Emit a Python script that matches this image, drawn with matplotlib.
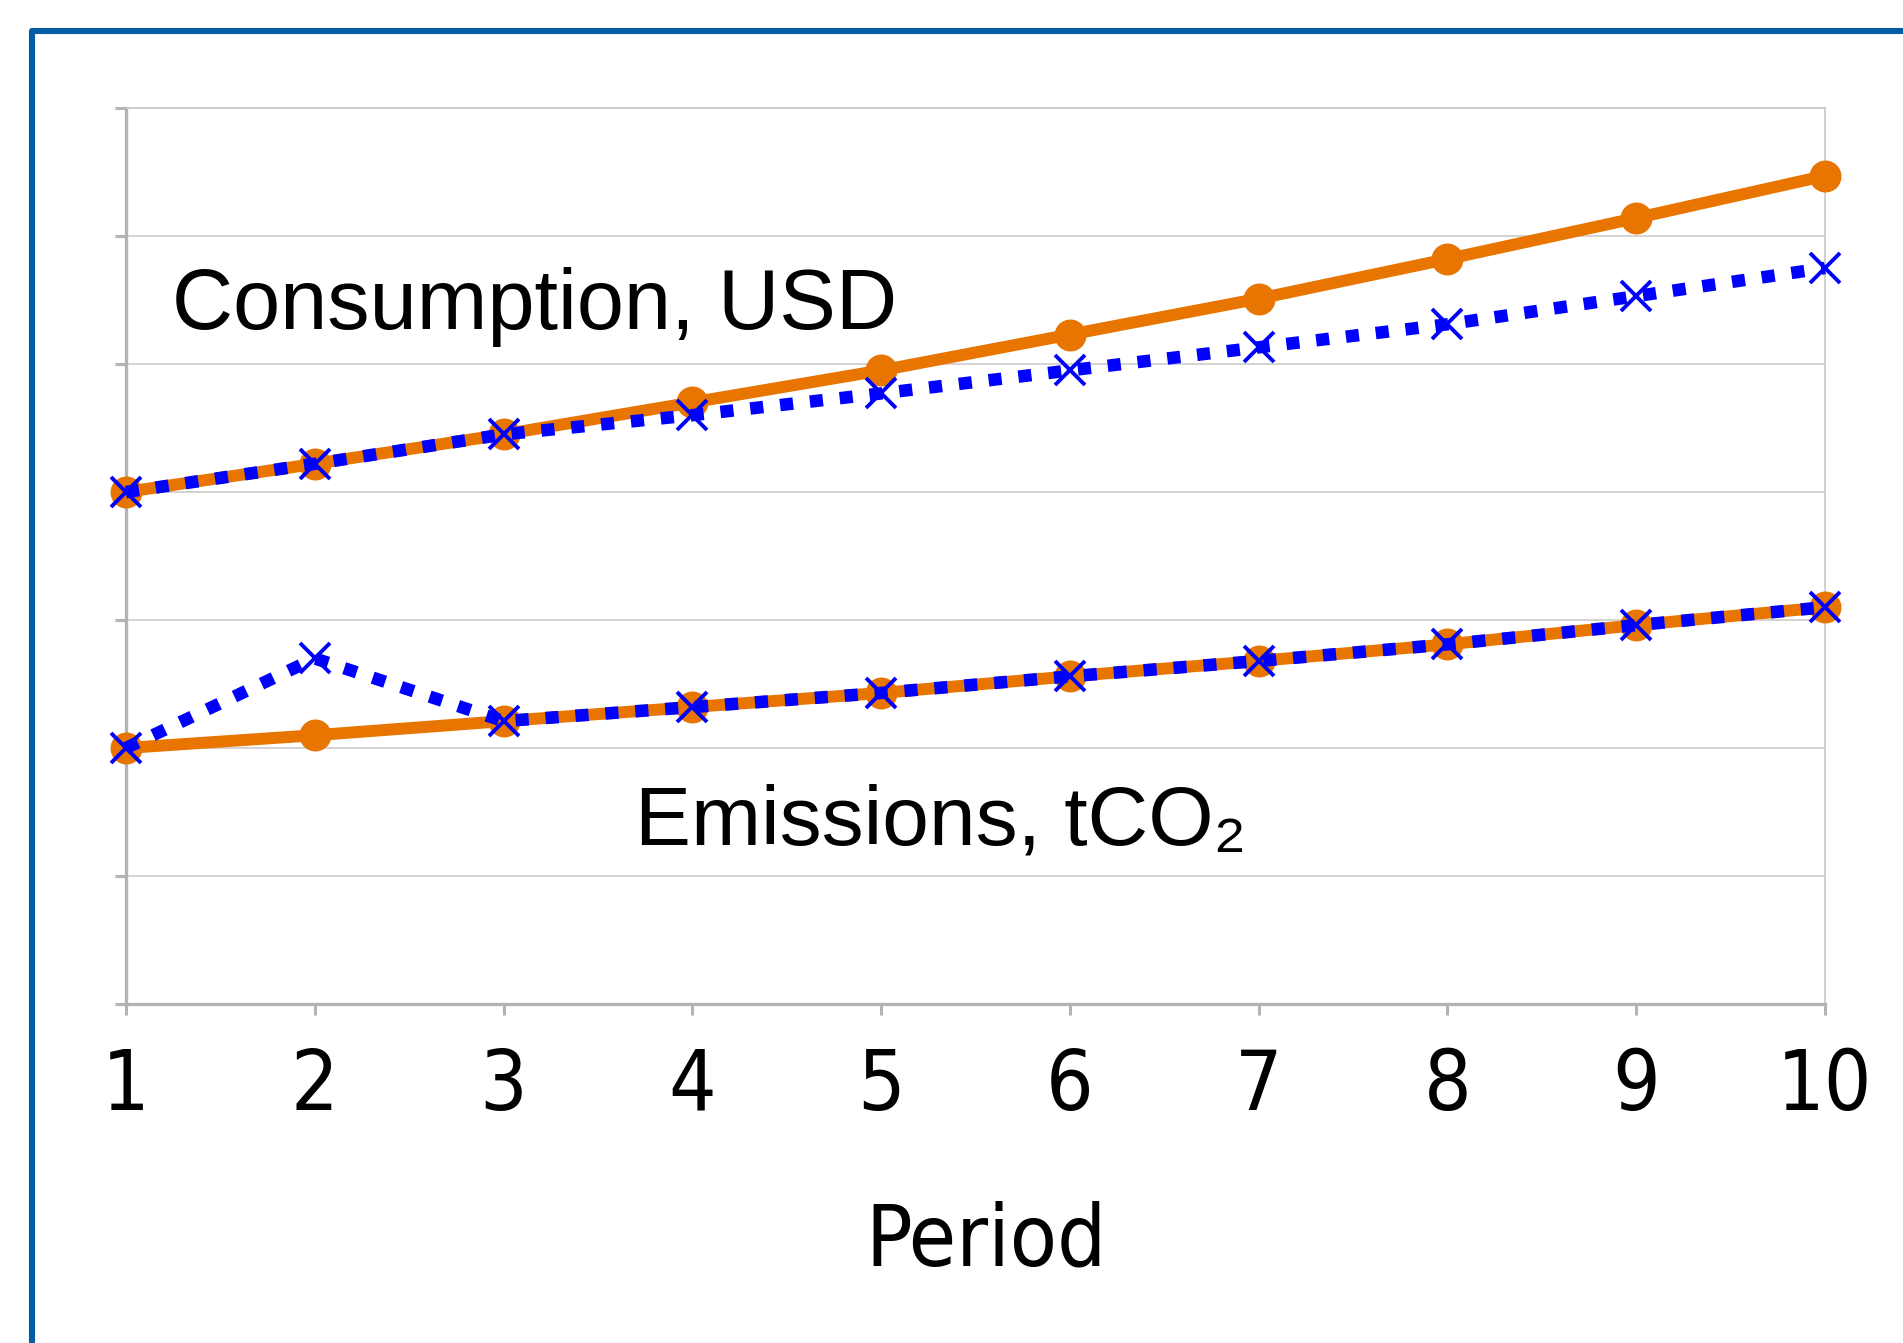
# Consumption and emissions per period, two scenarios each
import matplotlib.pyplot as plt
from matplotlib.patches import Rectangle

periods = [1, 2, 3, 4, 5, 6, 7, 8, 9, 10]

# orange solid series (baseline)
cons_base = [4.00, 4.22, 4.45, 4.70, 4.95, 5.23, 5.51, 5.82, 6.14, 6.47]
emis_base = [2.00, 2.10, 2.21, 2.32, 2.43, 2.56, 2.68, 2.81, 2.96, 3.10]

# blue dotted series (alternative)
cons_alt = [4.00, 4.22, 4.45, 4.60, 4.77, 4.95, 5.13, 5.31, 5.53, 5.75]
emis_alt = [2.00, 2.70, 2.21, 2.32, 2.43, 2.56, 2.68, 2.81, 2.96, 3.10]

orange = '#E87500'
blue = '#0000FF'

fig = plt.figure(figsize=(19.03, 13.43), dpi=100)
ax = fig.add_axes([0.0662, 0.2524, 0.8928, 0.6672])

# outer blue frame, runs off the right and bottom edges
frame = Rectangle((32 / 1903, -0.1), 1.2, 1 - 31 / 1343 + 0.1, transform=fig.transFigure,
                  fill=False, edgecolor='#045DA3', linewidth=4.4, joinstyle='round', zorder=0)
fig.patches.append(frame)

for base, alt in [(cons_base, cons_alt), (emis_base, emis_alt)]:
    ax.plot(periods, base, color=orange, lw=8.6, marker='o', ms=22, solid_capstyle='round',
            zorder=3, clip_on=False)
    line, = ax.plot(periods, alt, color=blue, lw=9, marker='x', ms=22, mew=2.8,
                    dash_capstyle='butt', zorder=4, clip_on=False)
    line.set_dashes([1.05, 1.35])

ax.text(1.244, 5.276, 'Consumption, USD', fontsize=61, family='Liberation Sans')
ax.text(3.694, 1.25, 'Emissions, tCO\u2082', fontsize=60.5, family='Liberation Sans')

ax.set_xlim(1, 10)
ax.set_ylim(0, 7)
ax.set_xticks(periods)
ax.set_yticks(range(8))
ax.set_yticklabels([])
ax.set_xticklabels([str(p) for p in periods], fontsize=60, fontstretch='condensed')
ax.tick_params(axis='x', length=8, width=2.2, color='#B3B3B3', pad=22)
ax.tick_params(axis='y', length=8, width=2.2, color='#B3B3B3')
ax.grid(axis='y', color='#D0D0D0', lw=1.3)
ax.set_axisbelow(True)
for s in ['left', 'bottom']:
    ax.spines[s].set_color('#B3B3B3')
    ax.spines[s].set_linewidth(2.4)
for s in ['top', 'right']:
    ax.spines[s].set_color('#C8C8C8')
    ax.spines[s].set_linewidth(1.2)

ax.set_xlabel('Period', fontsize=62, fontstretch='condensed')
ax.xaxis.set_label_coords(0.506, -0.219)

fig.savefig('out.png', dpi=100)
